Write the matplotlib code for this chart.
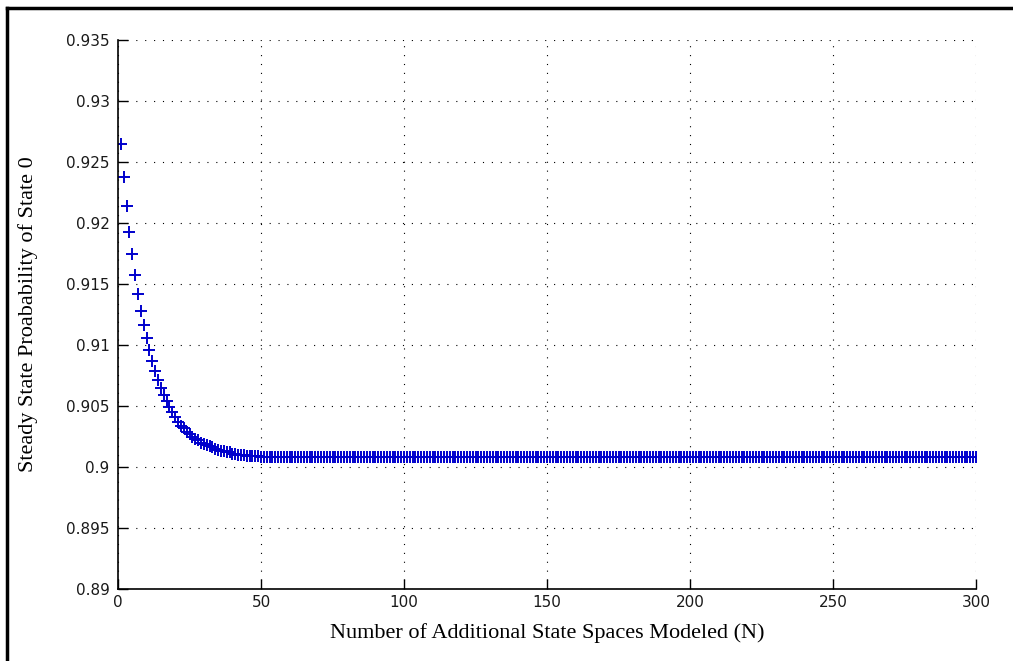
import matplotlib
matplotlib.use("Agg")
import matplotlib.pyplot as plt
from matplotlib.lines import Line2D

# steady state probability of state 0 vs N
head_vals = [
    0.9265, 0.9238, 0.9214, 0.9193, 0.9175, 0.9157, 0.9142, 0.9128, 0.9116, 0.9106,
    0.9096, 0.9087, 0.9079, 0.9071, 0.9065, 0.9059, 0.9054, 0.9049, 0.9045, 0.9041,
    0.9037, 0.9034, 0.9032, 0.9029, 0.9027, 0.9025, 0.9023, 0.9022, 0.9020, 0.9019,
    0.9018, 0.9017, 0.9016, 0.9015, 0.9014, 0.9013, 0.9013, 0.9012, 0.9012, 0.9011,
    0.9011, 0.9010, 0.9010, 0.9010, 0.9009, 0.9009, 0.9009, 0.9009, 0.9009, 0.9008,
]
plateau_val = 0.9008
n_total = 300

prob = head_vals + [plateau_val] * (n_total - len(head_vals))
n_vals = list(range(1, n_total + 1))

x_ticks = [0, 50, 100, 150, 200, 250, 300]
y_ticks = [0.89, 0.895, 0.9, 0.905, 0.91, 0.915, 0.92, 0.925, 0.93, 0.935]
y_ticklabels = ['0.89', '0.895', '0.9', '0.905', '0.91', '0.915', '0.92', '0.925', '0.93', '0.935']

tick_font = ['Liberation Sans Narrow', 'DejaVu Sans']
label_font = ['Liberation Serif', 'DejaVu Serif']

fig = plt.figure(figsize=(10.13, 6.61), dpi=100)
ax = fig.add_axes([0.1165, 0.1089, 0.847, 0.8306])

ax.plot(n_vals, prob, linestyle='none', marker='+', color='#0000cc',
        markersize=8, markeredgewidth=1.4)

ax.set_xlim(0, 300)
ax.set_ylim(0.89, 0.935)
ax.set_xticks(x_ticks)
ax.set_xticklabels([str(t) for t in x_ticks], family=tick_font, fontsize=11, color='#1a1a1a')
ax.set_yticks(y_ticks)
ax.set_yticklabels(y_ticklabels, family=tick_font, fontsize=11, color='#1a1a1a')
ax.tick_params(direction='in', length=7, width=1)
ax.tick_params(axis='x', pad=4)
ax.tick_params(axis='y', pad=6)

# matlab-ish dotted grid, box off
ax.grid(True, color='black', linewidth=0.8, linestyle=(0, (1, 7)))
ax.spines['top'].set_visible(False)
ax.spines['right'].set_visible(False)
ax.spines['left'].set_linewidth(1.2)
ax.spines['bottom'].set_linewidth(1.2)

ax.set_xlabel('Number of Additional State Spaces Modeled (N)', family=label_font,
              fontsize=16, labelpad=10)
ax.set_ylabel('Steady State Proabability of State 0', family=label_font,
              fontsize=16, labelpad=20)

# frame on top and left edge of the image
fig.add_artist(Line2D([0.007, 0.007], [0.0, 0.988], transform=fig.transFigure,
                      color='black', linewidth=2.5))
fig.add_artist(Line2D([0.007, 1.0], [0.988, 0.988], transform=fig.transFigure,
                      color='black', linewidth=2.5))

fig.savefig('out.png', dpi=100)
